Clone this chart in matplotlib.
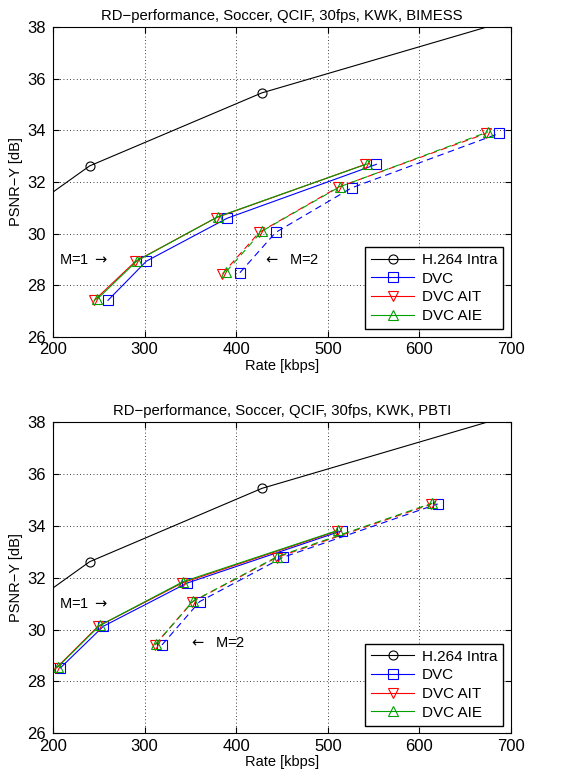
import matplotlib
matplotlib.use("Agg")
import matplotlib.pyplot as plt

plt.rcParams['font.family'] = ['Liberation Sans', 'DejaVu Sans']

# H.264 intra (same in both panels)
intra_rate = [176, 240, 428, 760]
intra_psnr = [31.0, 32.62, 35.45, 38.9]

# top panel: BIMESS
top_dvc_m1 = ([260, 302, 390, 553], [27.41, 28.93, 30.59, 32.68])
top_ait_m1 = ([245, 290, 378, 541], [27.41, 28.92, 30.61, 32.68])
top_aie_m1 = ([248, 292, 380, 543], [27.45, 28.95, 30.65, 32.70])
top_dvc_m2 = ([404, 443, 526, 687], [28.48, 30.04, 31.77, 33.88])
top_ait_m2 = ([385, 425, 511, 673], [28.44, 30.04, 31.79, 33.88])
top_aie_m2 = ([389, 428, 513, 675], [28.52, 30.09, 31.81, 33.94])

# bottom panel: PBTI
bot_dvc_m1 = ([208, 255, 346, 515], [28.52, 30.13, 31.79, 33.81])
bot_ait_m1 = ([203, 249, 341, 510], [28.50, 30.12, 31.80, 33.80])
bot_aie_m1 = ([205, 251, 342, 511], [28.55, 30.16, 31.85, 33.83])
bot_dvc_m2 = ([319, 360, 451, 620], [29.41, 31.08, 32.79, 34.85])
bot_ait_m2 = ([311, 352, 444, 613], [29.40, 31.07, 32.78, 34.84])
bot_aie_m2 = ([312, 353, 445, 614], [29.43, 31.10, 32.82, 34.88])

titles = ["RD\u2212performance, Soccer, QCIF, 30fps, KWK, BIMESS",
          "RD\u2212performance, Soccer, QCIF, 30fps, KWK, PBTI"]
labels = ["H.264 Intra", "DVC", "DVC AIT", "DVC AIE"]

fig = plt.figure(figsize=(5.61, 7.78), dpi=100)
ax1 = fig.add_axes([0.0945, 0.5672, 0.8164, 0.398])
ax2 = fig.add_axes([0.0945, 0.0575, 0.8164, 0.3997])

panels = [
    (ax1, [top_dvc_m1, top_ait_m1, top_aie_m1], [top_dvc_m2, top_ait_m2, top_aie_m2],
     (207, 28.97), (429, 28.97)),
    (ax2, [bot_dvc_m1, bot_ait_m1, bot_aie_m1], [bot_dvc_m2, bot_ait_m2, bot_aie_m2],
     (207, 31.0), (349, 29.5)),
]

colors = ['b', 'r', '#00a000']
markers = ['s', 'v', '^']
dash = (0, (6, 4))

for i, (ax, m1, m2, p1, p2) in enumerate(panels):
    ax.plot(intra_rate, intra_psnr, 'k-', marker='o', mfc='none', ms=6.5, lw=0.8, mew=0.8,
            label=labels[0])
    for k in range(3):
        ax.plot(m1[k][0], m1[k][1], color=colors[k], marker=markers[k], mfc='none',
                ms=6.5, lw=0.8, mew=0.8, label=labels[k + 1])
        ax.plot(m2[k][0], m2[k][1], color=colors[k], marker=markers[k], mfc='none',
                ms=6.5, lw=0.8, mew=0.8, linestyle=dash)
    ax.set_xlim(200, 700)
    ax.set_ylim(26, 38)
    ax.set_xticks([200, 300, 400, 500, 600, 700])
    ax.set_yticks([26, 28, 30, 32, 34, 36, 38])
    ax.grid(True, color='k', linestyle=(0, (1, 3)), lw=0.6)
    ax.tick_params(direction='in', top=True, right=True, labelsize=12, length=4)
    ax.tick_params(axis='y', pad=5)
    ax.tick_params(axis='x', pad=4)
    ax.set_xlabel("Rate [kbps]", fontsize=10.5, labelpad=1)
    ax.set_ylabel("PSNR\u2212Y [dB]", fontsize=10.5, labelpad=3)
    ax.set_title(titles[i], fontsize=10.7, pad=5)
    ax.text(p1[0], p1[1], r"M=1 $\rightarrow$", fontsize=10.5, va='center', ha='left')
    ax.text(p2[0], p2[1], r"$\leftarrow$  M=2", fontsize=10.5, va='center', ha='left')
    leg = ax.legend(loc='lower right', fontsize=11, handlelength=2.8, fancybox=False,
                    framealpha=1, borderaxespad=0.5, labelspacing=0.3, handletextpad=0.5)
    leg.get_frame().set_edgecolor('k')
    leg.get_frame().set_linewidth(1.0)

fig.savefig("out.png", dpi=100)
